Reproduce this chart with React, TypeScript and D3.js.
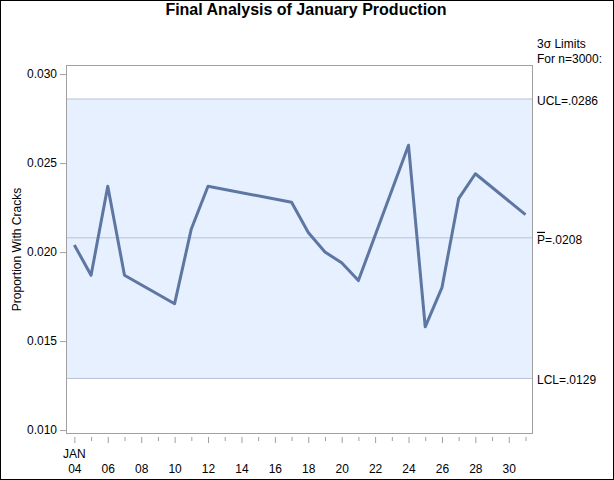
import { useEffect, useRef } from 'react';
import * as d3 from 'd3';

// daily proportion of cracked units, January
const days = [4, 5, 6, 7, 10, 11, 12, 17, 18, 19, 20, 21, 24, 25, 26, 27, 28, 31];
const proportions = [
  0.0204, 0.0187, 0.0237, 0.0187, 0.0171, 0.0213, 0.0237, 0.0228, 0.0211, 0.02, 0.0194,
  0.0184, 0.026, 0.0158, 0.018, 0.023, 0.0244, 0.0221,
];

const ucl = 0.0286;
const centerLine = 0.0208;
const lcl = 0.0129;

const yTicks = [0.01, 0.015, 0.02, 0.025, 0.03];
const xMajorTicks = [4, 6, 8, 10, 12, 14, 16, 18, 20, 22, 24, 26, 28, 30];
const xMinorTicks = [5, 7, 9, 11, 13, 15, 17, 19, 21, 23, 25, 27, 29, 31];

const W = 614;
const H = 480;
const FONT = '"Liberation Sans", Arial, sans-serif';

export default function App() {
  const svgRef = useRef<SVGSVGElement>(null);

  useEffect(() => {
    if (!svgRef.current) return;
    const svg = d3.select(svgRef.current);
    svg.selectAll('*').remove();

    const frame = { left: 66, right: 533, top: 65, bottom: 434 };

    const x = d3.scaleLinear().domain([3.5, 31.45]).range([frame.left, frame.right]);
    const y = d3.scaleLinear().domain([0.00978, 0.03051]).range([frame.bottom, frame.top]);

    // page background + outer border
    svg.append('rect').attr('width', W).attr('height', H).attr('fill', '#fff');
    svg
      .append('rect')
      .attr('x', 0.5)
      .attr('y', 0.5)
      .attr('width', W - 1)
      .attr('height', H - 1)
      .attr('fill', 'none')
      .attr('stroke', '#000');

    // title
    svg
      .append('text')
      .attr('x', 306)
      .attr('y', 15)
      .attr('text-anchor', 'middle')
      .style('font-family', FONT)
      .style('font-size', '16px')
      .style('font-weight', 'bold')
      .text('Final Analysis of January Production');

    // control band between limits
    svg
      .append('rect')
      .attr('x', frame.left)
      .attr('y', y(ucl))
      .attr('width', frame.right - frame.left)
      .attr('height', y(lcl) - y(ucl))
      .attr('fill', '#e6f0fe');

    // limit lines
    [ucl, centerLine, lcl].forEach((v) => {
      svg
        .append('line')
        .attr('x1', frame.left)
        .attr('x2', frame.right)
        .attr('y1', y(v))
        .attr('y2', y(v))
        .attr('stroke', '#b6c2d6')
        .attr('stroke-width', 1);
    });

    // frame
    svg
      .append('rect')
      .attr('x', frame.left + 0.5)
      .attr('y', frame.top + 0.5)
      .attr('width', frame.right - frame.left - 1)
      .attr('height', frame.bottom - frame.top - 1)
      .attr('fill', 'none')
      .attr('stroke', '#a0a0a0');

    // y axis
    const yAxis = d3
      .axisLeft(y)
      .tickValues(yTicks)
      .tickFormat((d) => d3.format('.3f')(d as number))
      .tickSize(6)
      .tickPadding(3);
    const yG = svg.append('g').attr('transform', `translate(${frame.left}, 0)`).call(yAxis);
    yG.select('.domain').remove();
    yG.selectAll('line').attr('stroke', '#a0a0a0');
    yG.selectAll('text')
      .style('font-family', FONT)
      .style('font-size', '12px')
      .attr('fill', '#000');

    svg
      .append('text')
      .attr('transform', `translate(21, ${(frame.top + frame.bottom) / 2}) rotate(-90)`)
      .attr('text-anchor', 'middle')
      .style('font-family', FONT)
      .style('font-size', '12px')
      .text('Proportion With Cracks');

    // x axis (offset below the frame)
    const axisY = frame.bottom + 3;
    const xMajor = d3
      .axisBottom(x)
      .tickValues(xMajorTicks)
      .tickFormat((d) => d3.format('02d')(d as number))
      .tickSize(6)
      .tickPadding(21);
    const xG = svg.append('g').attr('transform', `translate(0, ${axisY})`).call(xMajor);
    xG.select('.domain').remove();
    xG.selectAll('line').attr('stroke', '#a0a0a0');
    xG.selectAll('text')
      .style('font-family', FONT)
      .style('font-size', '12px')
      .attr('fill', '#000');

    const xMinor = d3.axisBottom(x).tickValues(xMinorTicks).tickFormat(() => '').tickSize(4);
    const xmG = svg.append('g').attr('transform', `translate(0, ${axisY})`).call(xMinor);
    xmG.select('.domain').remove();
    xmG.selectAll('line').attr('stroke', '#a0a0a0');

    svg
      .append('text')
      .attr('x', x(4))
      .attr('y', 458)
      .attr('text-anchor', 'middle')
      .style('font-family', FONT)
      .style('font-size', '12px')
      .text('JAN');

    // data line
    const line = d3
      .line<number>()
      .x((_, i) => x(days[i]))
      .y((d) => y(d));
    svg
      .append('path')
      .attr('d', line(proportions))
      .attr('fill', 'none')
      .attr('stroke', '#5d76a2')
      .attr('stroke-width', 3)
      .attr('stroke-linejoin', 'round');

    // limit labels on the right
    const lx = 537;
    const rightText = (yy: number) =>
      svg
        .append('text')
        .attr('x', lx)
        .attr('y', yy)
        .style('font-family', FONT)
        .style('font-size', '12px');

    rightText(48).text('3σ Limits');
    rightText(63).text('For n=3000:');
    rightText(y(ucl) + 6).text(`UCL=${d3.format('.4f')(ucl).slice(1)}`);
    const pLabel = rightText(y(centerLine) + 6);
    pLabel.append('tspan').style('text-decoration', 'overline').text('P');
    pLabel.append('tspan').text(`=${d3.format('.4f')(centerLine).slice(1)}`);
    rightText(y(lcl) + 6).text(`LCL=${d3.format('.4f')(lcl).slice(1)}`);
  }, []);

  return (
    <svg
      ref={svgRef}
      width={W}
      height={H}
      style={{ position: 'absolute', left: 0, top: 0, display: 'block' }}
    />
  );
}
